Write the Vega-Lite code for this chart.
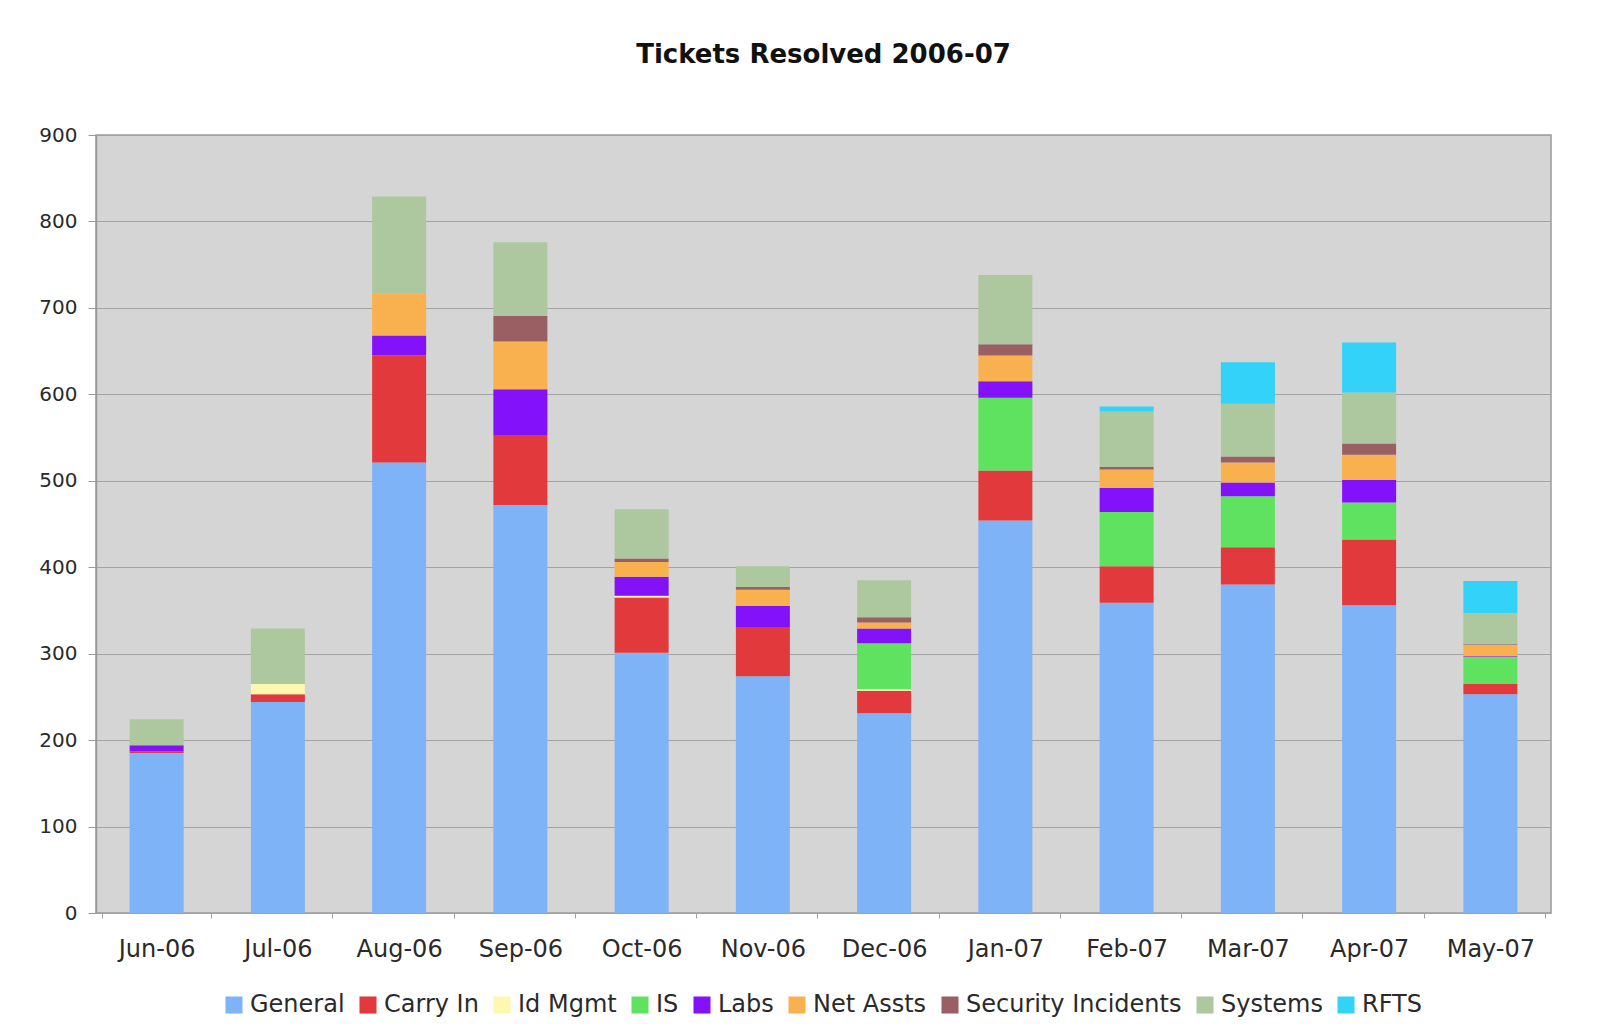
{
  "$schema": "https://vega.github.io/schema/vega-lite/v6.json",
  "autosize": {"type": "none"},
  "width": 1455,
  "height": 778,
  "padding": {"left": 96, "top": 135, "right": 60, "bottom": 111},
  "background": "white",
  "title": {
    "text": "Tickets Resolved 2006-07",
    "font": "DejaVu Sans",
    "fontSize": 26,
    "fontWeight": "bold",
    "color": "#111111",
    "offset": 57,
    "anchor": "middle"
  },
  "config": {
    "view": {"fill": "#d5d5d5", "stroke": "#9a9a9a", "strokeWidth": 1.5},
    "font": "DejaVu Sans"
  },
  "data": {
    "values": [
      {"m": "Jun-06", "c": "General", "v": 185, "k": 0},
      {"m": "Jun-06", "c": "Carry In", "v": 2, "k": 1},
      {"m": "Jun-06", "c": "Labs", "v": 7, "k": 4},
      {"m": "Jun-06", "c": "Systems", "v": 30, "k": 7},
      {"m": "Jul-06", "c": "General", "v": 244, "k": 0},
      {"m": "Jul-06", "c": "Carry In", "v": 9, "k": 1},
      {"m": "Jul-06", "c": "Id Mgmt", "v": 12, "k": 2},
      {"m": "Jul-06", "c": "Systems", "v": 64, "k": 7},
      {"m": "Aug-06", "c": "General", "v": 521, "k": 0},
      {"m": "Aug-06", "c": "Carry In", "v": 124, "k": 1},
      {"m": "Aug-06", "c": "Labs", "v": 23, "k": 4},
      {"m": "Aug-06", "c": "Net Assts", "v": 49, "k": 5},
      {"m": "Aug-06", "c": "Systems", "v": 112, "k": 7},
      {"m": "Sep-06", "c": "General", "v": 472, "k": 0},
      {"m": "Sep-06", "c": "Carry In", "v": 81, "k": 1},
      {"m": "Sep-06", "c": "Labs", "v": 53, "k": 4},
      {"m": "Sep-06", "c": "Net Assts", "v": 55, "k": 5},
      {"m": "Sep-06", "c": "Security Incidents", "v": 30, "k": 6},
      {"m": "Sep-06", "c": "Systems", "v": 85, "k": 7},
      {"m": "Oct-06", "c": "General", "v": 301, "k": 0},
      {"m": "Oct-06", "c": "Carry In", "v": 64, "k": 1},
      {"m": "Oct-06", "c": "Id Mgmt", "v": 2, "k": 2},
      {"m": "Oct-06", "c": "Labs", "v": 22, "k": 4},
      {"m": "Oct-06", "c": "Net Assts", "v": 17, "k": 5},
      {"m": "Oct-06", "c": "Security Incidents", "v": 4, "k": 6},
      {"m": "Oct-06", "c": "Systems", "v": 57, "k": 7},
      {"m": "Nov-06", "c": "General", "v": 274, "k": 0},
      {"m": "Nov-06", "c": "Carry In", "v": 56, "k": 1},
      {"m": "Nov-06", "c": "Labs", "v": 25, "k": 4},
      {"m": "Nov-06", "c": "Net Assts", "v": 19, "k": 5},
      {"m": "Nov-06", "c": "Security Incidents", "v": 3, "k": 6},
      {"m": "Nov-06", "c": "Systems", "v": 24, "k": 7},
      {"m": "Dec-06", "c": "General", "v": 231, "k": 0},
      {"m": "Dec-06", "c": "Carry In", "v": 26, "k": 1},
      {"m": "Dec-06", "c": "Id Mgmt", "v": 2, "k": 2},
      {"m": "Dec-06", "c": "IS", "v": 53, "k": 3},
      {"m": "Dec-06", "c": "Labs", "v": 17, "k": 4},
      {"m": "Dec-06", "c": "Net Assts", "v": 7, "k": 5},
      {"m": "Dec-06", "c": "Security Incidents", "v": 6, "k": 6},
      {"m": "Dec-06", "c": "Systems", "v": 43, "k": 7},
      {"m": "Jan-07", "c": "General", "v": 454, "k": 0},
      {"m": "Jan-07", "c": "Carry In", "v": 58, "k": 1},
      {"m": "Jan-07", "c": "IS", "v": 84, "k": 3},
      {"m": "Jan-07", "c": "Labs", "v": 19, "k": 4},
      {"m": "Jan-07", "c": "Net Assts", "v": 30, "k": 5},
      {"m": "Jan-07", "c": "Security Incidents", "v": 13, "k": 6},
      {"m": "Jan-07", "c": "Systems", "v": 80, "k": 7},
      {"m": "Feb-07", "c": "General", "v": 359, "k": 0},
      {"m": "Feb-07", "c": "Carry In", "v": 42, "k": 1},
      {"m": "Feb-07", "c": "IS", "v": 63, "k": 3},
      {"m": "Feb-07", "c": "Labs", "v": 28, "k": 4},
      {"m": "Feb-07", "c": "Net Assts", "v": 21, "k": 5},
      {"m": "Feb-07", "c": "Security Incidents", "v": 3, "k": 6},
      {"m": "Feb-07", "c": "Systems", "v": 64, "k": 7},
      {"m": "Feb-07", "c": "RFTS", "v": 6, "k": 8},
      {"m": "Mar-07", "c": "General", "v": 380, "k": 0},
      {"m": "Mar-07", "c": "Carry In", "v": 43, "k": 1},
      {"m": "Mar-07", "c": "IS", "v": 59, "k": 3},
      {"m": "Mar-07", "c": "Labs", "v": 16, "k": 4},
      {"m": "Mar-07", "c": "Net Assts", "v": 23, "k": 5},
      {"m": "Mar-07", "c": "Security Incidents", "v": 7, "k": 6},
      {"m": "Mar-07", "c": "Systems", "v": 61, "k": 7},
      {"m": "Mar-07", "c": "RFTS", "v": 48, "k": 8},
      {"m": "Apr-07", "c": "General", "v": 356, "k": 0},
      {"m": "Apr-07", "c": "Carry In", "v": 76, "k": 1},
      {"m": "Apr-07", "c": "IS", "v": 43, "k": 3},
      {"m": "Apr-07", "c": "Labs", "v": 26, "k": 4},
      {"m": "Apr-07", "c": "Net Assts", "v": 29, "k": 5},
      {"m": "Apr-07", "c": "Security Incidents", "v": 13, "k": 6},
      {"m": "Apr-07", "c": "Systems", "v": 59, "k": 7},
      {"m": "Apr-07", "c": "RFTS", "v": 58, "k": 8},
      {"m": "May-07", "c": "General", "v": 253, "k": 0},
      {"m": "May-07", "c": "Carry In", "v": 12, "k": 1},
      {"m": "May-07", "c": "IS", "v": 31, "k": 3},
      {"m": "May-07", "c": "Labs", "v": 1, "k": 4},
      {"m": "May-07", "c": "Net Assts", "v": 13, "k": 5},
      {"m": "May-07", "c": "Security Incidents", "v": 1, "k": 6},
      {"m": "May-07", "c": "Systems", "v": 36, "k": 7},
      {"m": "May-07", "c": "RFTS", "v": 37, "k": 8}
    ]
  },
  "mark": {"type": "bar", "size": 54},
  "encoding": {
    "x": {
      "field": "m",
      "type": "nominal",
      "sort": ["Jun-06", "Jul-06", "Aug-06", "Sep-06", "Oct-06", "Nov-06", "Dec-06", "Jan-07", "Feb-07", "Mar-07", "Apr-07", "May-07"],
      "title": null,
      "axis": {
        "labelAngle": 0,
        "labelFontSize": 24,
        "labelColor": "#2a2a2a",
        "labelPadding": 19,
        "ticks": true,
        "tickBand": "extent",
        "tickSize": 5,
        "tickColor": "#a0a0a0",
        "domain": false,
        "grid": false
      }
    },
    "y": {
      "field": "v",
      "type": "quantitative",
      "aggregate": "sum",
      "stack": "zero",
      "title": null,
      "scale": {"domain": [0, 900], "nice": false},
      "axis": {
        "values": [0, 100, 200, 300, 400, 500, 600, 700, 800, 900],
        "labelFontSize": 20,
        "labelColor": "#2a2a2a",
        "labelPadding": 11,
        "tickSize": 8,
        "tickColor": "#9a9a9a",
        "domainColor": "#9a9a9a",
        "domainWidth": 1.5,
        "gridColor": "#a3a3a3",
        "gridWidth": 1.2
      }
    },
    "color": {
      "field": "c",
      "type": "nominal",
      "scale": {
        "domain": ["General", "Carry In", "Id Mgmt", "IS", "Labs", "Net Assts", "Security Incidents", "Systems", "RFTS"],
        "range": ["#7fb3f7", "#e23a3c", "#fdf7b0", "#5fe25f", "#8312fb", "#f9b04e", "#9a5f63", "#adc79f", "#33d2f8"]
      },
      "legend": {
        "title": null,
        "orient": "none",
        "legendX": 126,
        "legendY": 858,
        "direction": "horizontal",
        "columns": 9,
        "symbolType": "square",
        "symbolSize": 290,
        "symbolStrokeWidth": 0,
        "labelFontSize": 24,
        "labelLimit": 0,
        "labelColor": "#2a2a2a",
        "labelOffset": 4,
        "columnPadding": 11
      }
    },
    "order": {"field": "k", "type": "quantitative", "sort": "ascending"}
  }
}
